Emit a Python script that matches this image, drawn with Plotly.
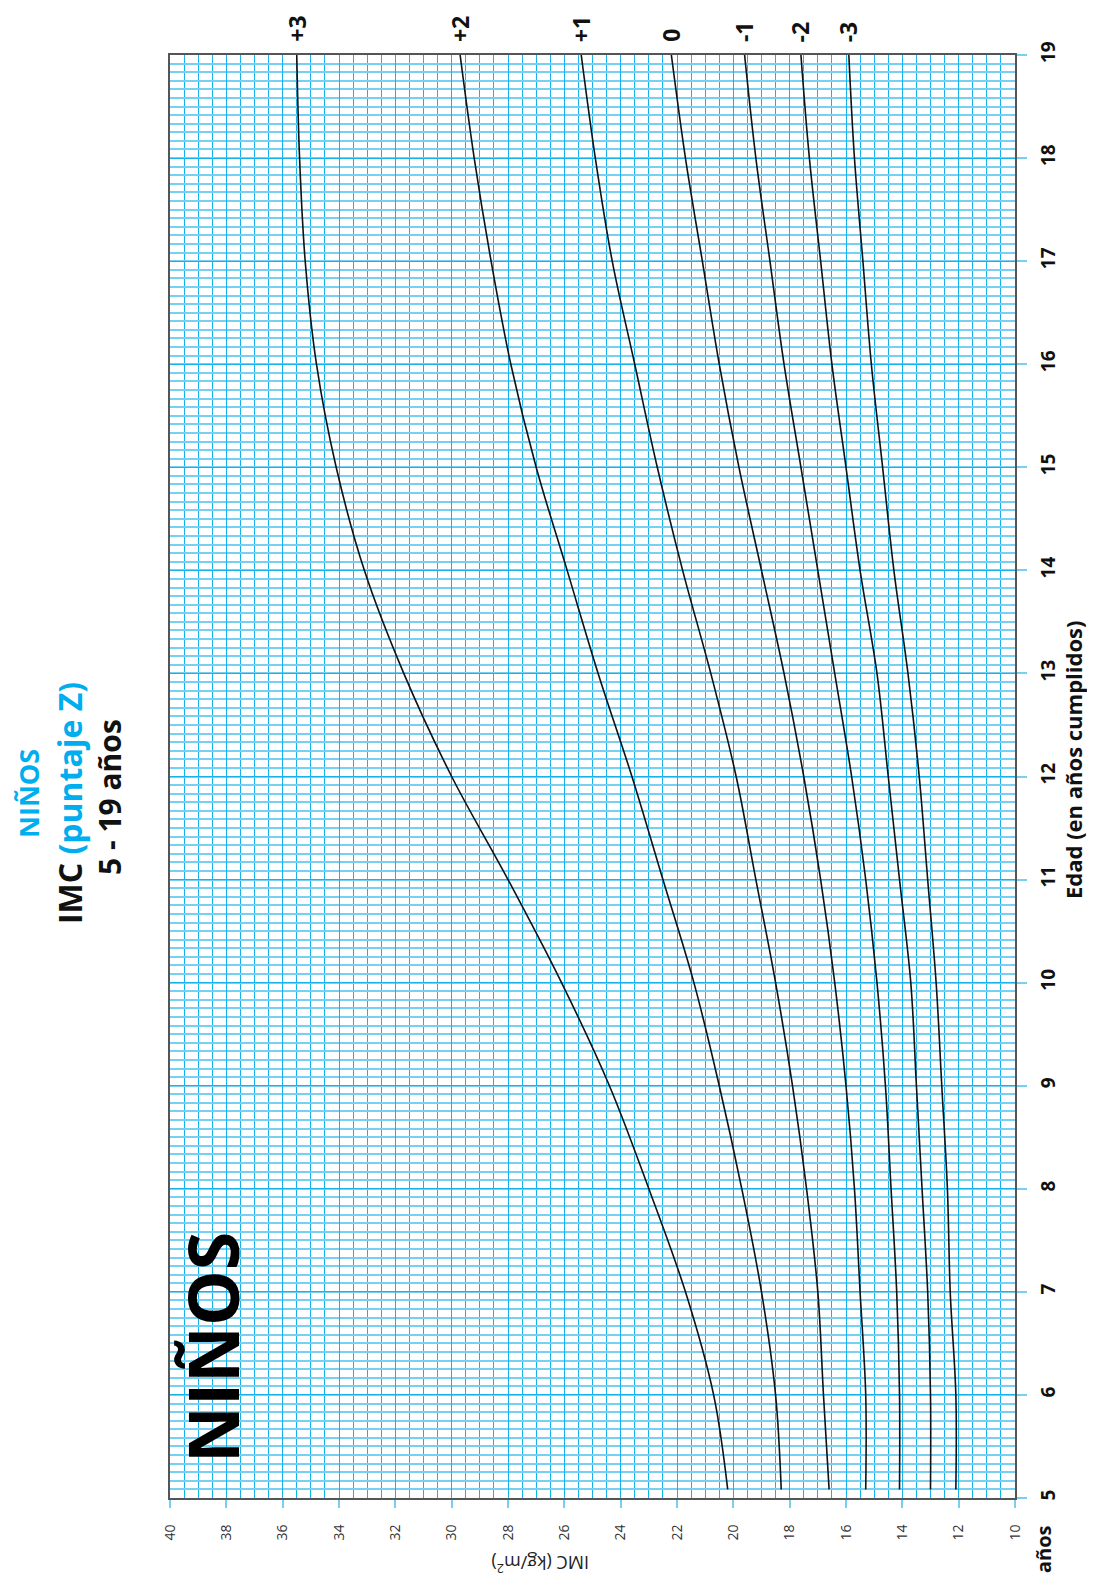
import plotly.graph_objects as go

# Age in years (first point = 5 years 1 month)
ages = [61/12, 6, 7, 8, 9, 10, 11, 12, 13, 14, 15, 16, 17, 18, 19]

# BMI (kg/m2) z-score curves, boys 5-19
sd_m3 = [12.1, 12.1, 12.3, 12.4, 12.6, 12.8, 13.1, 13.4, 13.8, 14.3, 14.7, 15.1, 15.4, 15.7, 15.9]
sd_m2 = [13.0, 13.0, 13.1, 13.3, 13.5, 13.7, 14.1, 14.5, 14.9, 15.5, 16.0, 16.5, 16.9, 17.3, 17.6]
sd_m1 = [14.1, 14.1, 14.2, 14.4, 14.6, 14.9, 15.3, 15.8, 16.4, 17.0, 17.6, 18.2, 18.7, 19.2, 19.6]
sd_0 = [15.3, 15.3, 15.5, 15.7, 16.0, 16.4, 16.9, 17.5, 18.2, 19.0, 19.8, 20.5, 21.1, 21.7, 22.2]
sd_p1 = [16.6, 16.8, 17.0, 17.4, 17.9, 18.5, 19.2, 19.9, 20.8, 21.8, 22.7, 23.5, 24.3, 24.9, 25.4]
sd_p2 = [18.3, 18.5, 19.0, 19.7, 20.5, 21.4, 22.5, 23.6, 24.8, 25.9, 27.0, 27.9, 28.6, 29.2, 29.7]
sd_p3 = [20.2, 20.7, 21.7, 23.0, 24.4, 26.1, 28.0, 30.0, 31.7, 33.1, 34.1, 34.8, 35.2, 35.4, 35.5]

series = [("-3", sd_m3), ("-2", sd_m2), ("-1", sd_m1), ("0", sd_0),
          ("+1", sd_p1), ("+2", sd_p2), ("+3", sd_p3)]

imc_ticks = list(range(10, 41, 2))
age_ticks = list(range(5, 20))

BLUE = "#17b1eb"
LIGHT = "#76d0f4"
CYAN = "#00aeef"
FONT = "Open Sans"

fig = go.Figure()
for name, vals in series:
    fig.add_trace(go.Scatter(
        x=vals, y=ages, mode="lines", name=name,
        line=dict(color="#111111", width=1.6, shape="spline", smoothing=1.0),
        hoverinfo="skip", showlegend=False))

# plot area in page pixels (page body adds an offset)
L, R, T, B = 170, 1015, 52, 1495
W, H = R - L, B - T
FW, FH = 1087, 1569


def px(xp):
    return (xp - L) / W


def py(yp):
    return (B - yp) / H


fig.update_layout(
    width=FW, height=FH,
    margin=dict(l=L - 8, r=FW - (R - 8), t=T - 5, b=FH - (B - 5), pad=0),
    paper_bgcolor="white", plot_bgcolor="white",
    font=dict(family=FONT, color="#222"),
    showlegend=False,
    xaxis=dict(
        range=[40, 10], tickvals=imc_ticks, tickangle=-90,
        tickfont=dict(size=14, color="#333", family=FONT),
        ticks="outside", ticklen=8, tickcolor=LIGHT, tickwidth=2,
        ticklabelstandoff=11,
        showgrid=True, gridcolor=BLUE, gridwidth=1.4,
        minor=dict(dtick=0.5, showgrid=True, gridcolor=BLUE, gridwidth=1.4, ticks=""),
        showline=True, linecolor="#555", linewidth=2, mirror=True,
        zeroline=False, fixedrange=True, automargin=False,
    ),
    yaxis=dict(
        range=[5, 19], tickvals=age_ticks, side="right", tickangle=-90,
        tickfont=dict(size=19, color="#111", family=FONT, weight="bold"),
        ticks="outside", ticklen=10, tickcolor=LIGHT, tickwidth=2,
        ticklabelstandoff=5,
        showgrid=True, gridcolor=BLUE, gridwidth=1.2,
        minor=dict(dtick=1/12, showgrid=True, gridcolor=LIGHT, gridwidth=2.4, ticks=""),
        showline=True, linecolor="#555", linewidth=2, mirror=True,
        zeroline=False, fixedrange=True, automargin=False,
    ),
)

ann = []
# z-score labels at the top
for name, vals in series:
    ann.append(dict(x=vals[-1], xref="x", y=py(41), yref="paper",
                    text=name, showarrow=False, textangle=-90,
                    xanchor="center", yanchor="bottom",
                    font=dict(size=23, color="#111", family=FONT, weight="bold")))


def add_text(xp, yp, text, size, color="#111", bold=True, angle=-90):
    f = dict(size=size, color=color, family=FONT)
    if bold:
        f["weight"] = "bold"
    ann.append(dict(x=px(xp), y=py(yp), xref="paper", yref="paper", text=text,
                    showarrow=False, textangle=angle,
                    xanchor="center", yanchor="middle", font=f))


# Titles
add_text(28, 791, "NIÑOS", 27, CYAN)
add_text(69, 800, "IMC <span style='color:%s'>(puntaje Z)</span>" % CYAN, 32)
add_text(109, 794, "5 - 19 años", 30)

# Big label inside the chart
add_text(212, 1345, "NIÑOS", 70, "#000")

# Axis titles
add_text(1073, 757, "Edad (en años cumplidos)", 22)
add_text(1043, 1546, "años", 20)
add_text(540, 1561, "IMC (kg/m<sup>2</sup>)", 18, "#222", bold=False, angle=180)

fig.update_layout(annotations=ann)

fig.write_html("out.html", config={"displayModeBar": False})
